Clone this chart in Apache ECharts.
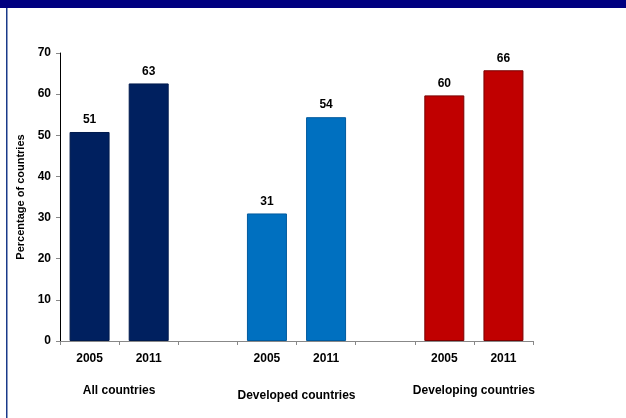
<!DOCTYPE html>
<html>
<head>
<meta charset="utf-8">
<script src="https://cdn.jsdelivr.net/npm/echarts@6/dist/echarts.min.js"></script>
<style>html,body{margin:0;padding:0;background:#fff}#c{width:626px;height:418px}</style>
</head>
<body>
<div id="c"></div>
<script>
var categories = ['2005', '2011', '', '2005', '2011', '', '2005', '2011'];
var groups = ['All countries', 'Developed countries', 'Developing countries'];
var groupPositions = [1, 4, 7];
var values = [50.8, 62.6, null, 31.0, 54.4, null, 59.7, 65.8];
var barColors = ['#00205F', '#00205F', null, '#0070C0', '#0070C0', null, '#C00000', '#C00000'];
var borderColors = ['#001a4d', '#001a4d', null, '#005a9e', '#005a9e', null, '#7a0000', '#7a0000'];
var yTicks = [0, 10, 20, 30, 40, 50, 60, 70];

var font = 'Liberation Sans, Arial, sans-serif';
var chart = echarts.init(document.getElementById('c'), null, {renderer: 'canvas'});
var data = values.map(function (v, i) {
  return v == null ? null : {value: v, itemStyle: {color: barColors[i], borderColor: borderColors[i], borderWidth: 1}};
});
chart.setOption({
  animation: false,
  backgroundColor: '#fff',
  grid: {left: 60, right: 93, top: 53, bottom: 77},
  graphic: [
    {type: 'rect', shape: {x: 0, y: 0, width: 626, height: 8}, style: {fill: '#000080'}},
    {type: 'rect', shape: {x: 6, y: 8, width: 1.5, height: 410}, style: {fill: '#1a3a8a'}}
  ],
  xAxis: [{
    type: 'category',
    data: categories,
    axisLine: {lineStyle: {color: '#888', width: 1}},
    axisTick: {show: true, length: 4, lineStyle: {color: '#888'}},
    axisLabel: {color: '#000', fontWeight: 'bold', fontSize: 12, fontFamily: font, margin: 12, interval: 0}
  }, {
    type: 'value',
    min: 0, max: 8, interval: 1,
    position: 'bottom',
    axisLine: {show: false}, axisTick: {show: false}, splitLine: {show: false},
    axisLabel: {
      margin: 44, fontSize: 12, fontWeight: 'bold', color: '#000', fontFamily: font,
      formatter: function (v) {
        var k = groupPositions.indexOf(v);
        if (k < 0) return '';
        return '{g' + k + '|' + groups[k] + '}';
      },
      rich: {
        g0: {fontSize: 12, fontWeight: 'bold', fontFamily: font, color: '#000', padding: [0, 0, 0, 0]},
        g1: {fontSize: 12, fontWeight: 'bold', fontFamily: font, color: '#000', padding: [5, 0, 0, 0]},
        g2: {fontSize: 12, fontWeight: 'bold', fontFamily: font, color: '#000', padding: [0, 0, 1, 0]}
      }
    }
  }],
  yAxis: {
    type: 'value', min: 0, max: 70, interval: 10,
    name: 'Percentage of countries', nameLocation: 'middle', nameGap: 34,
    nameTextStyle: {fontWeight: 'bold', fontSize: 11, fontFamily: font, color: '#000'},
    axisLine: {show: true, lineStyle: {color: '#000'}},
    axisTick: {show: true, length: 4, lineStyle: {color: '#888'}},
    splitLine: {show: false},
    axisLabel: {color: '#000', fontWeight: 'bold', fontSize: 12, fontFamily: font, margin: 9,
      formatter: function (v) { return yTicks.indexOf(v) >= 0 ? String(v) : ''; }}
  },
  series: [{
    type: 'bar',
    data: data,
    barWidth: 40,
    label: {show: true, position: 'top', distance: 6, color: '#000', fontWeight: 'bold', fontSize: 12, fontFamily: font,
      formatter: function (p) { return Math.round(p.value); }}
  }]
});
</script>
</body>
</html>
